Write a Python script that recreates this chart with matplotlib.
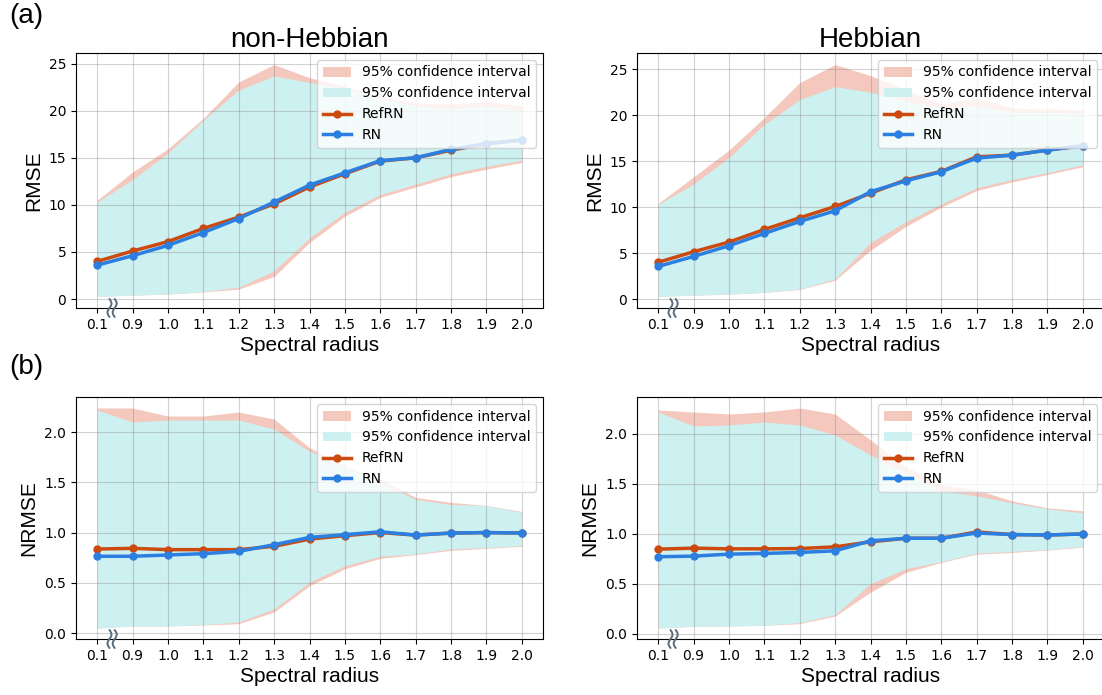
import matplotlib
matplotlib.use("Agg")
import matplotlib.pyplot as plt
from matplotlib.patches import Patch
from matplotlib.lines import Line2D
import numpy as np

# Spectral radius settings (categorical axis)
radius_labels = ["0.1", "0.9", "1.0", "1.1", "1.2", "1.3", "1.4",
                 "1.5", "1.6", "1.7", "1.8", "1.9", "2.0"]

# ---- RMSE, non-Hebbian ----
rmse_nh_ref = [4.0, 5.1, 6.1, 7.5, 8.7, 10.1, 11.9, 13.3, 14.65, 15.0, 15.8, 16.5, 16.9]
rmse_nh_rn = [3.6, 4.6, 5.7, 7.06, 8.55, 10.3, 12.1, 13.4, 14.7, 15.0, 15.9, 16.5, 16.9]
rmse_nh_ref_hi = [10.5, 13.5, 15.96, 19.2, 23.06, 24.9, 23.5, 22.6, 21.5, 20.8, 20.7, 21.0, 20.5]
rmse_nh_ref_lo = [0.28, 0.42, 0.53, 0.75, 1.06, 2.4, 6.0, 8.8, 10.8, 11.9, 13.0, 13.8, 14.5]
rmse_nh_rn_hi = [10.3, 12.7, 15.5, 19.0, 22.2, 23.7, 23.0, 22.4, 21.3, 20.5, 20.2, 20.5, 20.0]
rmse_nh_rn_lo = [0.28, 0.42, 0.53, 0.8, 1.25, 3.0, 6.5, 9.2, 11.1, 12.2, 13.3, 14.1, 14.75]

# ---- RMSE, Hebbian ----
rmse_h_ref = [4.0, 5.15, 6.2, 7.57, 8.84, 10.07, 11.5, 12.97, 13.88, 15.47, 15.65, 16.2, 16.67]
rmse_h_rn = [3.55, 4.64, 5.8, 7.14, 8.44, 9.6, 11.67, 12.86, 13.84, 15.33, 15.65, 16.2, 16.67]
rmse_h_ref_hi = [10.4, 13.3, 16.2, 19.75, 23.55, 25.5, 24.3, 22.8, 21.2, 21.9, 20.8, 20.65, 20.6]
rmse_h_ref_lo = [0.29, 0.43, 0.54, 0.72, 1.05, 2.05, 5.3, 7.9, 10.0, 11.8, 12.75, 13.55, 14.4]
rmse_h_rn_hi = [10.3, 12.5, 15.4, 19.0, 21.7, 23.1, 22.5, 21.5, 20.8, 21.0, 20.3, 20.3, 20.2]
rmse_h_rn_lo = [0.29, 0.43, 0.54, 0.74, 1.1, 2.2, 6.16, 8.4, 10.35, 12.1, 13.0, 13.75, 14.6]

# ---- NRMSE, non-Hebbian ----
nrmse_nh_ref = [0.836, 0.843, 0.83, 0.83, 0.83, 0.863, 0.935, 0.969, 1.0, 0.975, 0.995, 1.0, 0.995]
nrmse_nh_rn = [0.764, 0.764, 0.777, 0.79, 0.813, 0.879, 0.952, 0.979, 1.008, 0.975, 0.995, 1.0, 0.995]
nrmse_nh_ref_hi = [2.24, 2.24, 2.16, 2.16, 2.2, 2.13, 1.845, 1.66, 1.53, 1.35, 1.3, 1.27, 1.21]
nrmse_nh_ref_lo = [0.05, 0.07, 0.07, 0.08, 0.093, 0.21, 0.47, 0.64, 0.744, 0.78, 0.823, 0.843, 0.863]
nrmse_nh_rn_hi = [2.22, 2.1, 2.12, 2.12, 2.12, 2.03, 1.81, 1.65, 1.5, 1.33, 1.28, 1.27, 1.2]
nrmse_nh_rn_lo = [0.05, 0.07, 0.07, 0.083, 0.11, 0.24, 0.506, 0.67, 0.764, 0.787, 0.836, 0.85, 0.87]

# ---- NRMSE, Hebbian ----
nrmse_h_ref = [0.846, 0.856, 0.849, 0.849, 0.852, 0.869, 0.919, 0.955, 0.955, 1.018, 0.992, 0.988, 0.998]
nrmse_h_rn = [0.77, 0.776, 0.796, 0.803, 0.813, 0.829, 0.929, 0.955, 0.955, 1.008, 0.992, 0.988, 0.998]
nrmse_h_ref_hi = [2.24, 2.22, 2.2, 2.22, 2.26, 2.2, 1.94, 1.67, 1.49, 1.44, 1.33, 1.26, 1.23]
nrmse_h_ref_lo = [0.056, 0.073, 0.076, 0.083, 0.1, 0.176, 0.415, 0.614, 0.713, 0.796, 0.813, 0.836, 0.866]
nrmse_h_rn_hi = [2.22, 2.08, 2.09, 2.12, 2.09, 1.99, 1.79, 1.61, 1.43, 1.38, 1.31, 1.25, 1.21]
nrmse_h_rn_lo = [0.056, 0.073, 0.076, 0.083, 0.109, 0.19, 0.5, 0.65, 0.72, 0.806, 0.823, 0.84, 0.872]

REF_COLOR = "#cc4a0e"
RN_COLOR = "#2b7fe0"
REF_FILL = "#f5c8be"
RN_FILL = "#cdf0f0"
BREAK_COLOR = "#5a6b7c"
LABEL_FONT = ["Liberation Sans", "DejaVu Sans"]

fig = plt.figure(figsize=(11.02, 6.95), dpi=100)

W = 467 / 1102
positions = {
    (0, 0): [76 / 1102, 387 / 695, W, 255 / 695],
    (0, 1): [637 / 1102, 387 / 695, W, 255 / 695],
    (1, 0): [76 / 1102, 56 / 695, W, 242 / 695],
    (1, 1): [637 / 1102, 56 / 695, W, 242 / 695],
}

panels = {
    (0, 0): (rmse_nh_ref, rmse_nh_rn, rmse_nh_ref_lo, rmse_nh_ref_hi, rmse_nh_rn_lo, rmse_nh_rn_hi, "RMSE"),
    (0, 1): (rmse_h_ref, rmse_h_rn, rmse_h_ref_lo, rmse_h_ref_hi, rmse_h_rn_lo, rmse_h_rn_hi, "RMSE"),
    (1, 0): (nrmse_nh_ref, nrmse_nh_rn, nrmse_nh_ref_lo, nrmse_nh_ref_hi, nrmse_nh_rn_lo, nrmse_nh_rn_hi, "NRMSE"),
    (1, 1): (nrmse_h_ref, nrmse_h_rn, nrmse_h_ref_lo, nrmse_h_ref_hi, nrmse_h_rn_lo, nrmse_h_rn_hi, "NRMSE"),
}

x = np.arange(len(radius_labels))


def draw_axis_break(ax, xpos, half_len_px=9.0, amp_px=2.0, gap_px=2.6):
    """Draw a pair of wavy strokes across the bottom spine at category xpos."""
    fig_dpi = ax.figure.dpi
    bbox = ax.get_position()
    w_px = bbox.width * ax.figure.get_figwidth() * fig_dpi
    h_px = bbox.height * ax.figure.get_figheight() * fig_dpi
    x0, x1 = ax.get_xlim()
    data_per_px = (x1 - x0) / w_px
    t = np.linspace(-1, 1, 60)
    ys = t * half_len_px / h_px
    for side in (-1, 1):
        xs = xpos + (side * gap_px + amp_px * np.sin(np.pi * t)) * data_per_px
        ax.plot(xs, ys, color=BREAK_COLOR, lw=1.4, transform=ax.get_xaxis_transform(),
                clip_on=False, zorder=6, solid_capstyle="round")


for key, (ref, rn, ref_lo, ref_hi, rn_lo, rn_hi, ylab) in panels.items():
    ax = fig.add_axes(positions[key])
    ax.fill_between(x, ref_lo, ref_hi, color=REF_FILL, lw=0)
    ax.fill_between(x, rn_lo, rn_hi, color=RN_FILL, lw=0)
    ax.plot(x, ref, color=REF_COLOR, lw=2.5, marker="o", ms=5)
    ax.plot(x, rn, color=RN_COLOR, lw=2.5, marker="o", ms=5)

    ax.set_xticks(x)
    ax.set_xticklabels(radius_labels)
    ax.set_xlim(-0.6, 12.6)
    ax.tick_params(labelsize=10)
    ax.grid(True, color="gray", alpha=0.35, lw=0.8)
    if ylab == "RMSE":
        ax.set_yticks([0, 5, 10, 15, 20, 25])
    else:
        ax.set_yticks([0.0, 0.5, 1.0, 1.5, 2.0])

    ax.set_ylabel(ylab, fontsize=15, family=LABEL_FONT)
    ax.set_xlabel("Spectral radius", fontsize=15, family=LABEL_FONT, labelpad=3)

    handles = [
        Patch(facecolor=REF_FILL, edgecolor="none", label="95% confidence interval"),
        Patch(facecolor=RN_FILL, edgecolor="none", label="95% confidence interval"),
        Line2D([], [], color=REF_COLOR, lw=2.5, marker="o", ms=5, label="RefRN"),
        Line2D([], [], color=RN_COLOR, lw=2.5, marker="o", ms=5, label="RN"),
    ]
    ax.legend(handles=handles, loc="upper right", fontsize=10)

    draw_axis_break(ax, 0.42)

    if key[0] == 0:
        ax.set_title("non-Hebbian" if key[1] == 0 else "Hebbian",
                     fontsize=20, family=LABEL_FONT, pad=2)

fig.text(0.008, 0.995, "(a)", fontsize=20, family=LABEL_FONT, va="top", ha="left")
fig.text(0.008, 0.49, "(b)", fontsize=20, family=LABEL_FONT, va="top", ha="left")

fig.savefig("out.png", dpi=100)
